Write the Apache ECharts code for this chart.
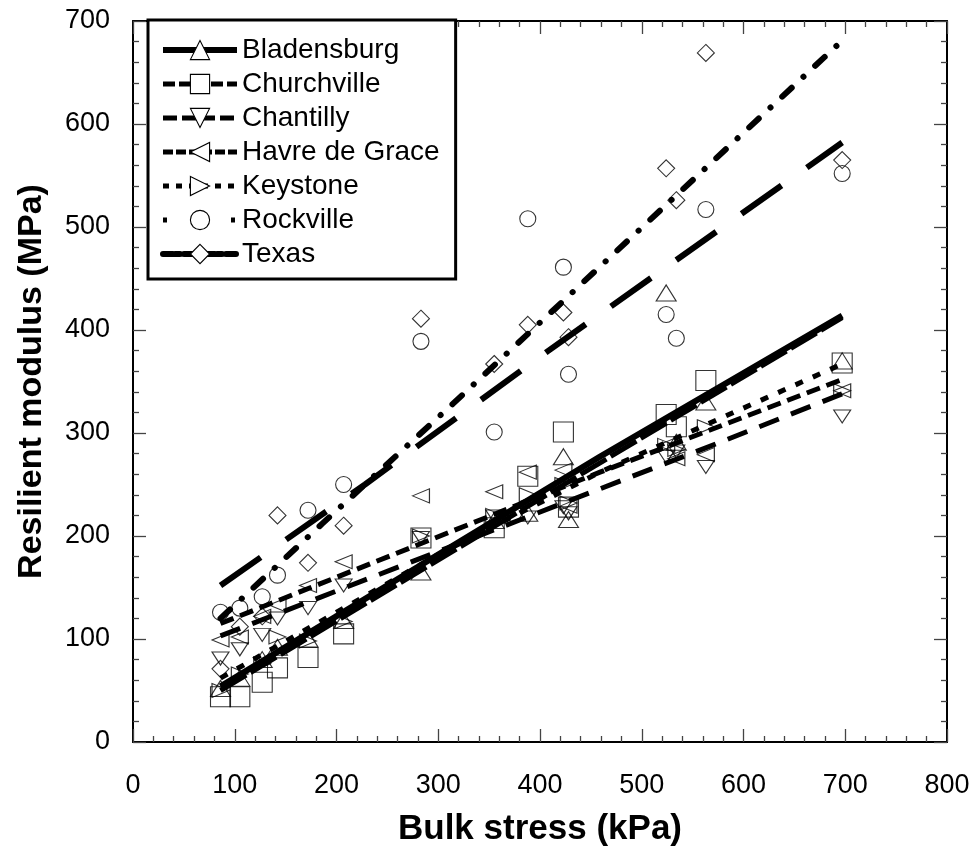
<!DOCTYPE html>
<html>
<head>
<meta charset="utf-8">
<script src="https://cdn.jsdelivr.net/npm/echarts@6/dist/echarts.min.js"></script>
<style>
html,body{margin:0;padding:0;background:#fff;}
#chart{width:974px;height:846px;}
</style>
</head>
<body>
<div id="chart"></div>
<script>
// ---- data ----
const xTicks = [0,100,200,300,400,500,600,700,800];
const yTicks = [0,100,200,300,400,500,600,700];
const siteNames = ['Bladensburg','Churchville','Chantilly','Havre de Grace','Keystone','Rockville','Texas'];
const bulkStress = [86,105,127,142,172,207,283,355,388,423,428,524,534,563,697];

const bladensburgMr = [52,62,80,92,100,118,165,215,222,277,216,436,291,330,370];
const churchvilleMr = [44,44,58,72,82,105,198,208,258,301,228,318,306,351,368];
const chantillyMr   = [81,90,104,120,130,152,198,219,218,228,222,277,282,267,316];
const havreMr       = [99,102,122,133,152,175,239,243,262,264,229,288,275,279,341];
const keystoneMr    = [50,66,76,102,98,117,200,220,240,250,232,288,284,306,341];
const rockvilleMr   = [126,130,141,162,225,250,389,301,508,461,357,415,392,517,552];
const texasMr       = [71,112,122,220,174,210,411,367,405,417,393,557,526,669,565];

// fitted lines (x, y)
const bladensburgFit = [[86,54],[459,277],[697,414]];
const churchvilleFit = [[86,50],[697,412]];
const chantillyFit   = [[86,103],[577,291],[697,338]];
const havreFit       = [[86,115],[459,262],[697,352]];
const keystoneFit    = [[86,62],[300,182],[459,262],[697,367]];
const rockvilleFit   = [[86,152],[228,250],[407,379],[534,468],[697,582]];
const texasFit       = [[86,120],[186,212],[314,328],[441,445],[568,562],[697,681]];

// ---- styles ----
const FONT = 'Liberation Sans, Arial, sans-serif';
const symUp    = 'path://M1,0L2,2L0,2Z';
const symDown  = 'path://M0,0L2,0L1,2Z';
const symLeft  = 'path://M0,1L2,0L2,2Z';
const symRight = 'path://M0,0L2,1L0,2Z';

const sites = [
  {name:'Bladensburg',   pts:bladensburgMr, fit:bladensburgFit, sym:symUp,     size:[20,16], line:{type:'solid', width:6},
   legendLine:{type:'solid', width:6}},
  {name:'Churchville',   pts:churchvilleMr, fit:churchvilleFit, sym:'rect',    size:[20,20], line:{type:[30,5], width:5},
   legendLine:{type:[12,4], width:5}},
  {name:'Chantilly',     pts:chantillyMr,   fit:chantillyFit,   sym:symDown,   size:[17,13], line:{type:[21,13], width:5},
   legendLine:{type:[14,5], width:5}},
  {name:'Havre de Grace',pts:havreMr,       fit:havreFit,       sym:symLeft,   size:[17,14], line:{type:[14,7], width:5},
   legendLine:{type:[10,3], width:5}},
  {name:'Keystone',      pts:keystoneMr,    fit:keystoneFit,    sym:symRight,  size:[17,14], line:{type:[8,11], width:5},
   legendLine:{type:[6,7], width:5}},
  {name:'Rockville',     pts:rockvilleMr,   fit:rockvilleFit,   sym:'circle',  size:16,      line:{type:[49,31], width:6},
   legendLine:{type:[4,30], width:5}},
  {name:'Texas',         pts:texasMr,       fit:texasFit,       sym:'diamond', size:[17,17], line:{type:[13,16,0.1,16], width:6, cap:'round'},
   legendLine:{type:[10,2,5,4], width:6}}
];

const series = [];
sites.forEach(function(s){
  series.push({
    name: s.name + ' data',
    type: 'scatter',
    data: bulkStress.map(function(x,i){ return [x, s.pts[i]]; }),
    symbol: s.sym,
    symbolSize: s.size,
    itemStyle: {color:'rgba(0,0,0,0)', borderColor:'#000', borderWidth:1.1},
    z: 2,
    silent: true
  });
});
sites.forEach(function(s){
  series.push({
    name: s.name,
    type: 'line',
    data: s.fit,
    symbol: s.sym,
    symbolSize: 16,
    showSymbol: false,
    lineStyle: Object.assign({color:'#000'}, s.line),
    itemStyle: {color:'#fff', borderColor:'#000', borderWidth:1.1},
    z: 3,
    silent: true,
    animation: false
  });
});

function axisCommon(){
  return {
    type: 'value',
    axisLine: {show:true, onZero:false, lineStyle:{color:'#000', width:2}},
    axisTick: {show:true, inside:true, length:13, lineStyle:{color:'#444', width:1.3}},
    minorTick: {show:true, splitNumber:5, length:6, lineStyle:{color:'#444', width:1.3}},
    splitLine: {show:false}
  };
}

const xBottom = Object.assign(axisCommon(), {
  position:'bottom', min:xTicks[0], max:xTicks[xTicks.length-1], interval:100,
  axisLabel:{fontSize:27, fontFamily:FONT, color:'#000', margin:30},
  name:'Bulk stress (kPa)', nameLocation:'middle', nameGap:70,
  nameTextStyle:{fontSize:35, fontWeight:'bold', fontFamily:FONT, color:'#000'}
});
const xTop = Object.assign(axisCommon(), {
  position:'top', min:xTicks[0], max:xTicks[xTicks.length-1], interval:100,
  axisLabel:{show:false}
});
const yLeft = Object.assign(axisCommon(), {
  position:'left', min:yTicks[0], max:yTicks[yTicks.length-1], interval:100,
  axisLabel:{fontSize:27, fontFamily:FONT, color:'#000', margin:23},
  name:'Resilient modulus (MPa)', nameLocation:'middle', nameGap:84,
  nameTextStyle:{fontSize:34, fontWeight:'bold', fontFamily:FONT, color:'#000'}
});
const yRight = Object.assign(axisCommon(), {
  position:'right', min:yTicks[0], max:yTicks[yTicks.length-1], interval:100,
  axisLabel:{show:false}
});

const chart = echarts.init(document.getElementById('chart'), null, {renderer:'canvas'});
chart.setOption({
  backgroundColor:'#fff',
  animation:false,
  grid:{left:133, right:27, top:21, bottom:104, containLabel:false, outerBoundsMode:'none'},
  xAxis:[xBottom, xTop],
  yAxis:[yLeft, yRight],
  legend:{
    orient:'vertical', left:148, top:20,
    data: sites.map(function(s){
      return {name:s.name, lineStyle:Object.assign({color:'#000'}, s.legendLine),
              itemStyle:{color:'#fff', borderColor:'#000', borderWidth:1.1}};
    }),
    itemWidth:74, itemHeight:24, itemGap:6,
    padding:[16,16,11,12],
    borderColor:'#000', borderWidth:3, backgroundColor:'#fff',
    selectedMode:false,
    textStyle:{fontSize:28, fontFamily:FONT, color:'#000', lineHeight:28}
  },
  series: series
});
</script>
</body>
</html>
